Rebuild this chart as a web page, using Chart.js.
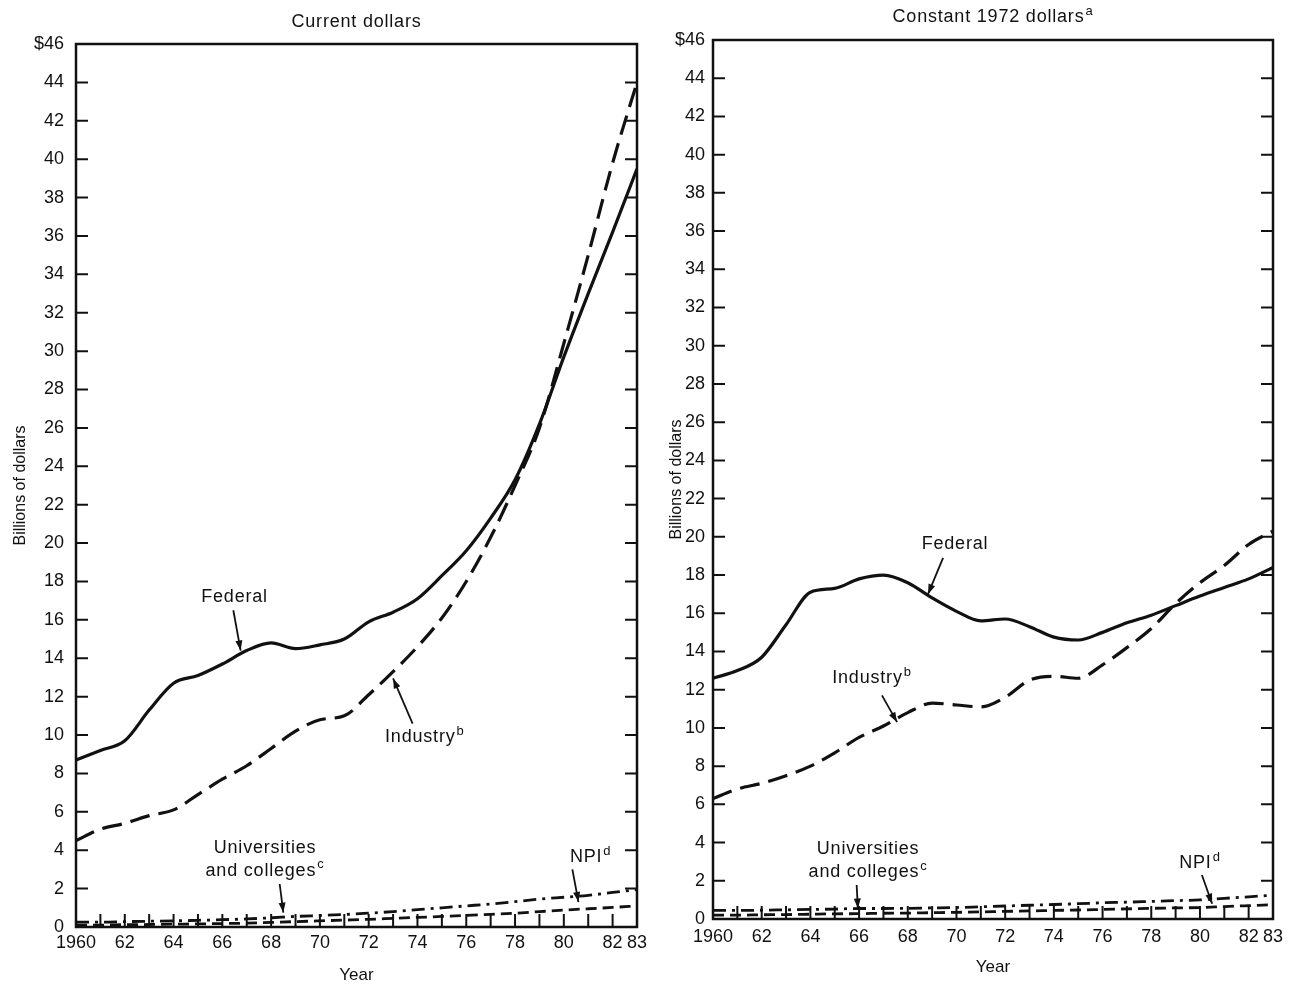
<!DOCTYPE html>
<html>
<head>
<meta charset="utf-8">
<script src="https://cdn.jsdelivr.net/npm/chart.js@4.4.0/dist/chart.umd.min.js"></script>
<style>
  html, body { margin: 0; padding: 0; background: #fff; }
  #wrap { position: relative; width: 1296px; height: 990px; }
  canvas { position: absolute; top: 0; }
  #left { left: 0; }
  #right { left: 660px; }
</style>
</head>
<body>
<div id="wrap">
  <canvas id="left" width="660" height="990"></canvas>
  <canvas id="right" width="636" height="990"></canvas>
</div>
<script>
// R&D funds by source, billions of dollars
const years = [1960, 1961, 1962, 1963, 1964, 1965, 1966, 1967, 1968, 1969, 1970, 1971,
  1972, 1973, 1974, 1975, 1976, 1977, 1978, 1979, 1980, 1981, 1982, 1983];
const xTickYears = [1960, 1962, 1964, 1966, 1968, 1970, 1972, 1974, 1976, 1978, 1980, 1982, 1983];

// current dollars
const federalCurrent = [8.7, 9.2, 9.7, 11.3, 12.7, 13.1, 13.7, 14.4, 14.8, 14.5, 14.7, 15.0,
  15.9, 16.4, 17.1, 18.3, 19.6, 21.3, 23.3, 26.2, 29.7, 33.0, 36.2, 39.5];
const industryCurrent = [4.5, 5.1, 5.4, 5.8, 6.1, 6.9, 7.7, 8.4, 9.3, 10.2, 10.8, 11.0,
  12.1, 13.3, 14.6, 16.1, 18.0, 20.3, 23.0, 26.0, 30.4, 35.0, 39.8, 44.0];
const univCurrent = [0.25, 0.25, 0.28, 0.3, 0.32, 0.35, 0.38, 0.42, 0.48, 0.55, 0.6, 0.65,
  0.72, 0.8, 0.9, 1.0, 1.1, 1.2, 1.32, 1.45, 1.55, 1.65, 1.8, 1.95];
const npiCurrent = [0.1, 0.1, 0.12, 0.13, 0.15, 0.16, 0.18, 0.2, 0.24, 0.28, 0.32, 0.36,
  0.4, 0.45, 0.5, 0.55, 0.6, 0.66, 0.72, 0.8, 0.88, 0.95, 1.02, 1.1];

// constant 1972 dollars
const federalConstant = [12.6, 13.0, 13.7, 15.4, 17.1, 17.3, 17.8, 18.0, 17.6, 16.8, 16.1, 15.6,
  15.7, 15.3, 14.75, 14.6, 15.0, 15.5, 15.9, 16.4, 16.9, 17.35, 17.8, 18.4];
const industryConstant = [6.3, 6.8, 7.1, 7.5, 8.0, 8.7, 9.5, 10.1, 10.8, 11.3, 11.2, 11.1,
  11.6, 12.5, 12.7, 12.6, 13.3, 14.2, 15.2, 16.5, 17.6, 18.5, 19.6, 20.3];
const univConstant = [0.45, 0.45, 0.46, 0.48, 0.5, 0.52, 0.55, 0.55, 0.56, 0.58, 0.6, 0.64,
  0.68, 0.72, 0.76, 0.8, 0.85, 0.88, 0.92, 0.96, 1.0, 1.08, 1.16, 1.25];
const npiConstant = [0.2, 0.2, 0.22, 0.23, 0.25, 0.27, 0.28, 0.3, 0.31, 0.33, 0.35, 0.37,
  0.4, 0.42, 0.45, 0.47, 0.5, 0.53, 0.56, 0.58, 0.6, 0.65, 0.7, 0.75];

const ink = "#111";
const fontFamily = "'Liberation Sans', Arial, Helvetica, sans-serif";

function pts(values) {
  return years.map((yr, i) => ({ x: yr, y: values[i] }));
}

function textWithSup(ctx, main, sup, cx, cy) {
  ctx.letterSpacing = "0.8px";
  ctx.font = "18px " + fontFamily;
  const w1 = ctx.measureText(main).width;
  ctx.font = "13px " + fontFamily;
  const w2 = sup ? ctx.measureText(sup).width + 1 : 0;
  const x0 = cx - (w1 + w2) / 2;
  ctx.textAlign = "left";
  ctx.textBaseline = "middle";
  ctx.font = "18px " + fontFamily;
  ctx.fillText(main, x0, cy);
  if (sup) {
    ctx.font = "13px " + fontFamily;
    ctx.fillText(sup, x0 + w1 + 1, cy - 6);
  }
}

function arrow(ctx, x1, y1, x2, y2) {
  ctx.beginPath();
  ctx.moveTo(x1, y1);
  ctx.lineTo(x2, y2);
  ctx.stroke();
  const ang = Math.atan2(y2 - y1, x2 - x1);
  const len = 10, half = 3.5;
  ctx.beginPath();
  ctx.moveTo(x2, y2);
  ctx.lineTo(x2 - len * Math.cos(ang) + half * Math.sin(ang), y2 - len * Math.sin(ang) - half * Math.cos(ang));
  ctx.lineTo(x2 - len * Math.cos(ang) - half * Math.sin(ang), y2 - len * Math.sin(ang) + half * Math.cos(ang));
  ctx.closePath();
  ctx.fill();
}

const panelDecor = {
  id: "panelDecor",
  afterDraw(chart, args, opts) {
    const { ctx, chartArea: a, scales: { x, y } } = chart;
    ctx.save();
    ctx.strokeStyle = ink;
    ctx.fillStyle = ink;

    // frame
    ctx.lineWidth = 2.5;
    ctx.strokeRect(a.left, a.top, a.right - a.left, a.bottom - a.top);

    // inward tick marks
    ctx.lineWidth = 2;
    y.ticks.forEach(t => {
      if (t.value <= 0 || t.value >= 46) return;
      const py = y.getPixelForValue(t.value);
      ctx.beginPath();
      ctx.moveTo(a.left, py); ctx.lineTo(a.left + 12, py);
      ctx.moveTo(a.right - 12, py); ctx.lineTo(a.right, py);
      ctx.stroke();
    });
    years.forEach(yr => {
      const px = x.getPixelForValue(yr);
      ctx.beginPath();
      ctx.moveTo(px, a.bottom); ctx.lineTo(px, a.bottom - 13);
      ctx.stroke();
    });

    // panel title
    textWithSup(ctx, opts.title, opts.titleSup, (a.left + a.right) / 2, a.top - opts.titleGap);

    // labels with arrows
    ctx.lineWidth = 1.8;
    opts.notes.forEach(n => {
      const cx = x.getPixelForValue(n.at[0]);
      const cy = y.getPixelForValue(n.at[1]);
      const top = cy - (n.lines.length - 1) * 23 / 2;
      n.lines.forEach((ln, i) => textWithSup(ctx, ln[0], ln[1], cx, top + i * 23));
      arrow(ctx, x.getPixelForValue(n.from[0]), y.getPixelForValue(n.from[1]),
        x.getPixelForValue(n.tip[0]), y.getPixelForValue(n.tip[1]));
    });
    ctx.restore();
  }
};

function makePanel(el, series, p) {
  return new Chart(document.getElementById(el), {
    type: "line",
    data: {
      datasets: [
        { label: "Federal", data: pts(series[0]), borderColor: ink, borderWidth: 3.2 },
        { label: "Industry", data: pts(series[1]), borderColor: ink, borderWidth: 3.2, borderDash: [20, 9] },
        { label: "Universities and colleges", data: pts(series[2]), borderColor: ink, borderWidth: 2.8, borderDash: [13, 6, 3, 6] },
        { label: "NPI", data: pts(series[3]), borderColor: ink, borderWidth: 2.8, borderDash: [11, 6] }
      ]
    },
    options: {
      responsive: false,
      animation: false,
      devicePixelRatio: 1,
      elements: {
        point: { radius: 0 },
        line: { cubicInterpolationMode: "monotone", fill: false, borderCapStyle: "butt" }
      },
      layout: { padding: { left: 0, top: p.top, right: p.right, bottom: 0 } },
      plugins: {
        legend: { display: false },
        tooltip: { enabled: false },
        panelDecor: { title: p.title, titleSup: p.titleSup, titleGap: p.titleGap, notes: p.notes }
      },
      scales: {
        x: {
          type: "linear",
          min: 1960,
          max: 1983,
          grid: { display: false, drawTicks: false },
          border: { display: false },
          afterBuildTicks: axis => { axis.ticks = xTickYears.map(v => ({ value: v })); },
          afterFit: axis => { axis.height = p.xHeight; },
          ticks: {
            autoSkip: false,
            maxRotation: 0,
            padding: p.xPad,
            color: ink,
            font: { family: fontFamily, size: 18 },
            callback: v => (v === 1960 ? "1960" : String(v).slice(2))
          },
          title: {
            display: true,
            text: "Year",
            color: ink,
            font: { family: fontFamily, size: 17 },
            padding: { top: 0, bottom: p.yearPad }
          }
        },
        y: {
          min: 0,
          max: 46,
          grid: { display: false, drawTicks: false },
          border: { display: false },
          afterFit: axis => { axis.width = p.left; },
          ticks: {
            stepSize: 2,
            autoSkip: false,
            padding: p.yPad,
            color: ink,
            font: { family: fontFamily, size: 18 },
            callback: v => (v === 46 ? "$46" : v)
          },
          title: {
            display: true,
            text: "Billions of dollars",
            color: ink,
            font: { family: fontFamily, size: 16 },
            padding: { top: p.yTitlePad, bottom: 0 }
          }
        }
      }
    },
    plugins: [panelDecor]
  });
}

makePanel("left", [federalCurrent, industryCurrent, univCurrent, npiCurrent], {
  title: "Current dollars", titleSup: "", titleGap: 22,
  top: 44, right: 23, left: 76, xHeight: 63, xPad: 5, yearPad: 4, yPad: 12, yTitlePad: 11,
  notes: [
    { lines: [["Federal", ""]], at: [1966.5, 17.2], from: [1966.45, 16.5], tip: [1966.75, 14.4] },
    { lines: [["Industry", "b"]], at: [1974.3, 9.9], from: [1973.8, 10.6], tip: [1973.0, 12.95] },
    { lines: [["Universities", ""], ["and colleges", "c"]], at: [1967.75, 3.54], from: [1968.35, 2.24], tip: [1968.5, 0.75] },
    { lines: [["NPI", "d"]], at: [1981.1, 3.65], from: [1980.35, 3.0], tip: [1980.6, 1.3] }
  ]
});

makePanel("right", [federalConstant, industryConstant, univConstant, npiConstant], {
  title: "Constant 1972 dollars", titleSup: "a", titleGap: 23,
  top: 40, right: 23, left: 53, xHeight: 71, xPad: 7, yearPad: 12, yPad: 8, yTitlePad: 7,
  notes: [
    { lines: [["Federal", ""]], at: [1969.94, 19.6], from: [1969.45, 18.9], tip: [1968.83, 17.0] },
    { lines: [["Industry", "b"]], at: [1966.53, 12.6], from: [1966.94, 11.7], tip: [1967.56, 10.3] },
    { lines: [["Universities", ""], ["and colleges", "c"]], at: [1966.37, 3.04], from: [1965.9, 1.78], tip: [1965.95, 0.55] },
    { lines: [["NPI", "d"]], at: [1980.0, 2.93], from: [1980.08, 2.3], tip: [1980.5, 0.8] }
  ]
});
</script>
</body>
</html>
